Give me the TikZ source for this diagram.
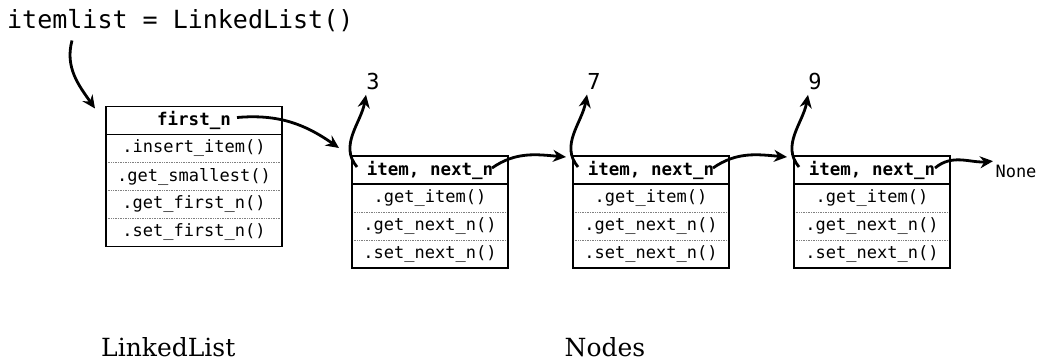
\documentclass[tikz,border=0pt]{standalone}
\usepackage{fontspec}
\setmonofont{DejaVu Sans Mono}
\newfontfamily\labelfont{DejaVu Serif}
\usetikzlibrary{arrows.meta, calc, positioning}

\tikzset{
  hdr/.style={draw, line width=1.3pt, inner sep=0pt, outer sep=0pt, minimum height=28pt,
    font=\ttfamily\bfseries\fontsize{17.5}{17.5}\selectfont},
  meth/.style={inner sep=0pt, outer sep=0pt, minimum height=28pt,
    font=\ttfamily\fontsize{17}{17}\selectfont},
  link/.style={-{Stealth[length=13pt,width=12pt]}, line width=2.8pt},
  sep/.style={densely dotted, gray, line width=0.7pt},
}

\begin{document}
\begin{tikzpicture}[x=1pt, y=1pt]
    \useasboundingbox (0,0) rectangle (1040,-362);

    % call
    \node[anchor=base west, inner sep=0pt, font=\ttfamily\fontsize{25}{25}\selectfont] (call) at (7,-28) {itemlist = LinkedList()};

    % LinkedList box
    \node[hdr, minimum width=176pt] (ll) at (194,-120.5) {first\_n};
    \node[meth, minimum width=176pt, below=0pt of ll] (ins) {.insert\_item()};
    \node[meth, minimum width=176pt, below=0pt of ins] (small) {.get\_smallest()};
    \node[meth, minimum width=176pt, below=0pt of small] (gfirst) {.get\_first\_n()};
    \node[meth, minimum width=176pt, below=0pt of gfirst] (sfirst) {.set\_first\_n()};
    \draw[sep] (ins.south west) -- (ins.south east);
    \draw[sep] (small.south west) -- (small.south east);
    \draw[sep] (gfirst.south west) -- (gfirst.south east);
    \draw[line width=1.3pt] (ll.north west) rectangle (sfirst.south east);

    % Node boxes
    \foreach \v [count=\i] in {3,7,9} {
        \node[hdr, minimum width=156pt] (n\i) at ({430+221*(\i-1)},-170) {item, next\_n};
        \node[meth, minimum width=156pt, below=0pt of n\i] (gi\i) {.get\_item()};
        \node[meth, minimum width=156pt, below=0pt of gi\i] (gn\i) {.get\_next\_n()};
        \node[meth, minimum width=156pt, below=0pt of gn\i] (sn\i) {.set\_next\_n()};
        \draw[sep] (gi\i.south west) -- (gi\i.south east);
        \draw[sep] (gn\i.south west) -- (gn\i.south east);
        \draw[line width=1.3pt] (n\i.north west) rectangle (sn\i.south east);
        % item value
        \node[font=\ttfamily\fontsize{22}{22}\selectfont] (v\i) at ({373+221*(\i-1)},-81) {\v};
        \draw[link] ([xshift=5pt,yshift=3pt]n\i.west) to[out=130, in=-100] ([xshift=-7pt,yshift=-2pt]v\i.south);
    }

    \node[font=\ttfamily\fontsize{17}{17}\selectfont] (none) at (1016,-171) {None};

    % links
    \draw[link] ([xshift=65pt,yshift=-9pt]call.south west) to[out=-105, in=125] ([xshift=-11pt,yshift=-2pt]ll.north west);
    \draw[link] ([xshift=43pt,yshift=3pt]ll.center) to[out=5, in=145] ([xshift=-13pt,yshift=8pt]n1.north west);
    \draw[link] ([xshift=-16pt,yshift=2pt]n1.east) to[out=35, in=175] ([xshift=-7pt,yshift=-1pt]n2.north west);
    \draw[link] ([xshift=-16pt,yshift=2pt]n2.east) to[out=35, in=175] ([xshift=-7pt,yshift=-1pt]n3.north west);
    \draw[link] ([xshift=-15pt,yshift=2pt]n3.east) to[out=40, in=185] ([xshift=1pt]none.north west);

    % labels
    \node[anchor=base west, inner sep=0pt, font=\labelfont\fontsize{25}{25}\selectfont] (lbllist) at (101,-356) {LinkedList};
    \node[anchor=base, inner sep=0pt, font=\labelfont\fontsize{25}{25}\selectfont] (lblnodes) at (605,-356) {Nodes};
\end{tikzpicture}
\end{document}
